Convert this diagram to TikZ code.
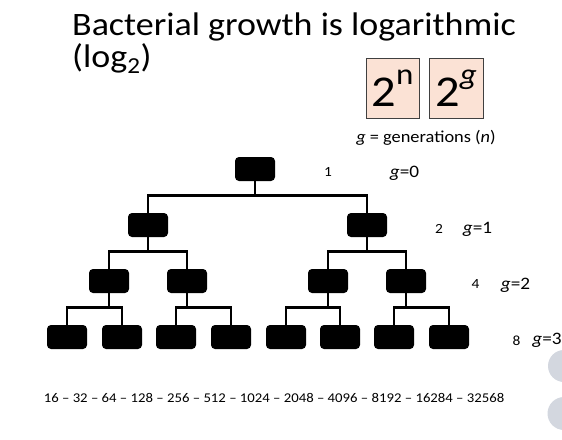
\documentclass[tikz,border=0pt]{standalone}
\usepackage{fontspec}
\setmainfont[FakeStretch=1.1]{Carlito}
\definecolor{peach}{HTML}{FBE2D5}
\definecolor{navgrey}{HTML}{D3D7DF}
\begin{document}
\begin{tikzpicture}[x=1pt,y=-1pt,
  cell/.style={fill=black, rounded corners=4pt, minimum width=40pt, minimum height=24pt, inner sep=0pt},
  link/.style={line width=2.7pt},
  powbox/.style={draw=black!75, fill=peach, line width=0.8pt, minimum width=53pt, minimum height=60pt, inner sep=0pt},
  cnt/.style={font=\fontsize{14}{14}\selectfont, inner sep=0pt},
  gen/.style={font=\fontsize{17.5}{17.5}\selectfont, inner sep=0pt},
  ttl/.style={anchor=base west, inner sep=0pt, font=\fontsize{32.7}{32.7}\selectfont},
  nav/.style={fill=navgrey, draw=none}]
\useasboundingbox (0,0) rectangle (562,439);
\clip (0,0) rectangle (562,439);
% title
\node[ttl] (t1) at (72,35) {Bacterial growth is logarithmic};
\node[ttl] (t2) at (72,67) {(log\textsubscript{2})};
% power boxes
\node[powbox] (p1) at (392.5,88) {{\fontsize{44}{44}\selectfont 2}{\fontsize{30}{30}\selectfont\raisebox{22pt}{n}}};
\node[powbox, minimum width=54pt] (p2) at (456,88) {{\fontsize{44}{44}\selectfont 2}{\fontsize{30}{30}\selectfont\raisebox{22pt}{\textit{g}}}};
\node[gen, font=\fontsize{16.7}{16.7}\selectfont] (def) at (426,137.5) {\textit{g} = generations (\textit{n})};
% tree
\node[cell] (r) at (255,169) {};
\node[cell] (a) at (148,225) {};
\node[cell] (b) at (367,225) {};
\node[cell] (aa) at (109,281) {};
\node[cell] (ab) at (187,281) {};
\node[cell] (ba) at (328,281) {};
\node[cell] (bb) at (406,281) {};
\node[cell] (aaa) at (67,337) {};
\node[cell] (aab) at (122,337) {};
\node[cell] (aba) at (176,337) {};
\node[cell] (abb) at (231,337) {};
\node[cell] (baa) at (286,337) {};
\node[cell] (bab) at (340,337) {};
\node[cell] (bba) at (394,337) {};
\node[cell] (bbb) at (449,337) {};
\foreach \p/\c in {r/a, r/b, a/aa, a/ab, b/ba, b/bb, aa/aaa, aa/aab, ab/aba, ab/abb, ba/baa, ba/bab, bb/bba, bb/bbb}
  \draw[link] (\c.north) -- ++(0,-17) -| (\p.south);
% level labels
\node[cnt] (c0) at (328,172) {1};
\node[gen] (g0) at (404.5,173.5) {\textit{g}=0};
\node[cnt] (c1) at (439,228.5) {2};
\node[gen] (g1) at (477.5,229.5) {\textit{g}=1};
\node[cnt] (c2) at (475.5,284.5) {4};
\node[gen] (g2) at (515.5,285.5) {\textit{g}=2};
\node[cnt] (c3) at (516.5,340.5) {8};
\node[gen] (g3) at (547,340.5) {\textit{g}=3};
% sequence
\node[inner sep=0pt, font=\fontsize{13.4}{13.4}\selectfont] (seq) at (274,398) {16 – 32 – 64 – 128 – 256 – 512 – 1024 – 2048 – 4096 – 8192 – 16284 – 32568};
% navigation circles (cut off at right edge)
\fill[nav] (564,366) circle (16);
\fill[nav] (564,413.5) circle (16.5);
\end{tikzpicture}
\end{document}
